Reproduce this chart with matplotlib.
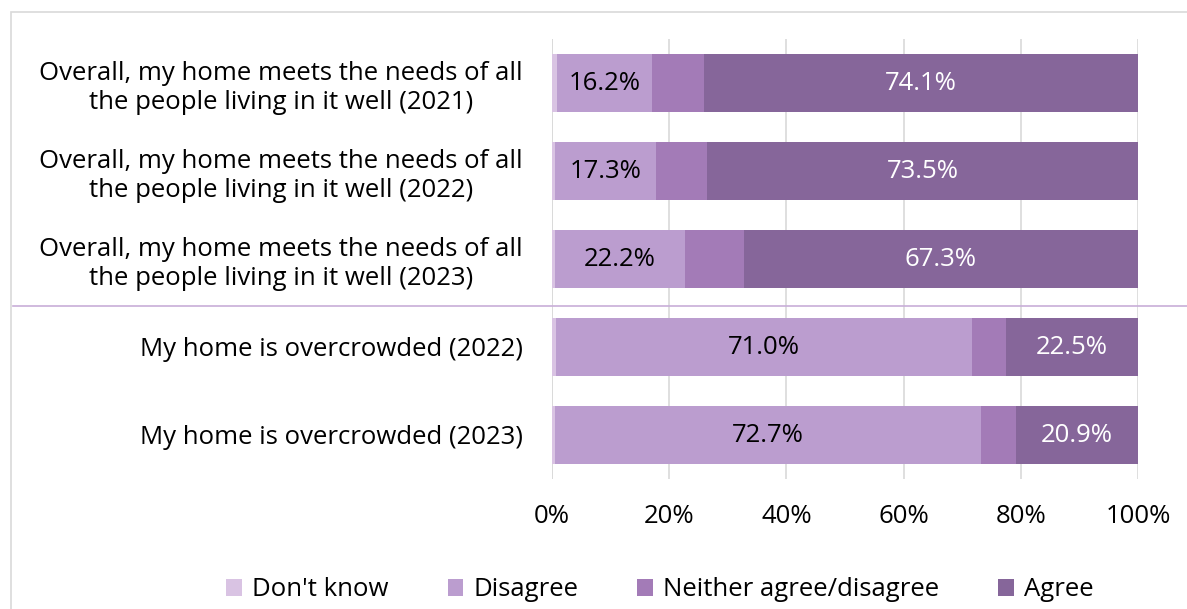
import matplotlib.pyplot as plt
import numpy as np

categories = [
    "Overall, my home meets the needs of all\nthe people living in it well (2021)",
    "Overall, my home meets the needs of all\nthe people living in it well (2022)",
    "Overall, my home meets the needs of all\nthe people living in it well (2023)",
    "My home is overcrowded (2022)",
    "My home is overcrowded (2023)",
]
series_names = ["Don't know", "Disagree", "Neither agree/disagree", "Agree"]
dont_know = [0.9, 0.5, 0.5, 0.7, 0.5]
disagree = [16.2, 17.3, 22.2, 71.0, 72.7]
neither = [8.8, 8.7, 10.0, 5.8, 5.9]
agree = [74.1, 73.5, 67.3, 22.5, 20.9]

colors = ["#d9c3e3", "#bb9dcf", "#a37bb7", "#86669a"]
label_colors = [None, "black", None, "white"]

plt.rcParams['font.family'] = ['Open Sans', 'DejaVu Sans']
fs = 18.5

fig = plt.figure(figsize=(11.87, 6.09), dpi=100)
ax = fig.add_axes([552 / 1187, 1 - 479 / 609, (1138 - 552) / 1187, (479 - 39) / 609])

y = np.arange(len(categories))
left = np.zeros(len(categories))
for name, vals, col, lc in zip(series_names, [dont_know, disagree, neither, agree], colors, label_colors):
    vals = np.array(vals)
    bars = ax.barh(y, vals, left=left, height=0.65, color=col, label=name, zorder=3)
    if lc:
        for b, v in zip(bars, vals):
            ax.text(b.get_x() + b.get_width() / 2, b.get_y() + b.get_height() / 2,
                    f"{v:.1f}%", ha="center", va="center", color=lc, fontsize=fs, zorder=4)
    left += vals

ax.set_xlim(0, 100)
ax.set_ylim(len(categories) - 0.5, -0.5)
ax.set_xticks([0, 20, 40, 60, 80, 100])
ax.set_xticklabels([f"{t}%" for t in [0, 20, 40, 60, 80, 100]], fontsize=fs)
ax.set_yticks(y)
ax.set_yticklabels(categories, fontsize=fs, multialignment="center")
ax.tick_params(axis="y", length=0, pad=21)
ax.tick_params(axis="x", length=0, pad=18)
ax.grid(axis="x", color="#d9d9d9", linewidth=1.2, zorder=0)
for s in ax.spines.values():
    s.set_visible(False)
ax.axvline(0, color="#d9d9d9", linewidth=1.2, zorder=1)

# separator between the two question groups
fig.add_artist(plt.Line2D([13 / 1187, 1], [1 - 306 / 609] * 2, color="#c8aed8", linewidth=1.2))
# outer border
fig.add_artist(plt.Rectangle((11 / 1187, -0.05), 1.1, 1 - 12 / 609 + 0.05, fill=False,
                             edgecolor="#d9d9d9", linewidth=1.2))

fig.legend(*ax.get_legend_handles_labels(), loc="center", bbox_to_anchor=(660 / 1187, 1 - 590 / 609),
           ncol=4, frameon=False, fontsize=fs, handlelength=0.6, handleheight=0.6,
           columnspacing=2.3, handletextpad=0.4)

fig.savefig("out.png", dpi=100)
